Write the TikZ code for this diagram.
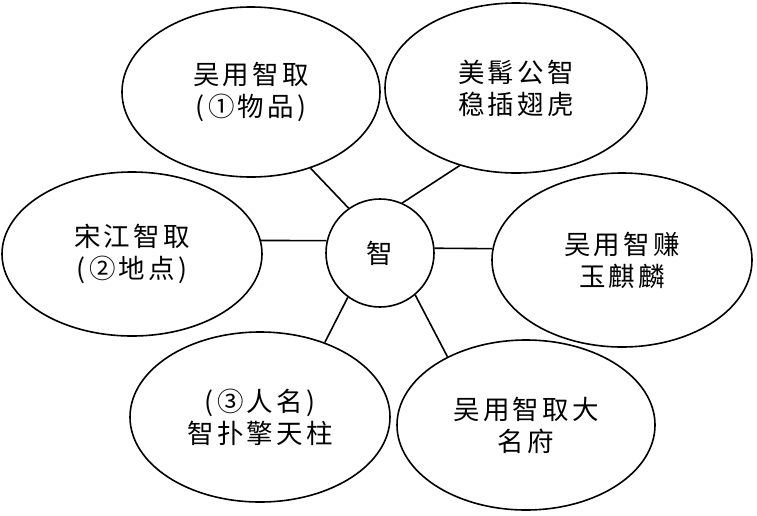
\documentclass[tikz,border=0pt]{standalone}
\usepackage{fontspec}
\usepackage{tikz}
\usetikzlibrary{shapes.geometric}
\newfontfamily\cjk[LetterSpace=12]{Noto Sans CJK SC}

\begin{document}
\begin{tikzpicture}[x=1pt,y=-1pt,
  idea/.style={draw,ellipse,line width=1.6pt,inner sep=0pt,
    minimum width=260pt,minimum height=170pt,align=center,
    font=\cjk\fontsize{26.5pt}{32pt}\selectfont},
  hub/.style={draw,circle,line width=1.6pt,minimum size=108pt,inner sep=0pt,
    font=\cjk\fontsize{26.5pt}{32pt}\selectfont},
  link/.style={line width=1.6pt}]
\useasboundingbox (0,0) rectangle (757,515);
\node[hub] (zhi) at (380,253) {智};
\node[idea,minimum width=258pt] (quwu) at (251,92) {吴用智取\\(①物品)};
\node[idea,minimum width=262pt] (huhu) at (516,88) {美髯公智\\稳插翅虎};
\node[idea,minimum height=164pt] (didian) at (132,254) {宋江智取\\(②地点)};
\node[idea,minimum height=174pt] (qilin) at (622,260) {吴用智赚\\玉麒麟};
\node[idea] (renming) at (260,417) {(③人名)\\智扑擎天柱};
\node[idea,minimum width=258pt] (mingfu) at (526,425) {吴用智取大\\名府};
\draw[link] (zhi.125) -- (quwu.-52);
\draw[link] (zhi.66) -- (huhu.-126);
\draw[link] (zhi.167) -- (didian.6);
\draw[link] (zhi.5) -- (qilin.175);
\draw[link] (zhi.-126) -- (renming.49);
\draw[link] (zhi.-50) -- (mingfu.139);
\end{tikzpicture}
\end{document}
